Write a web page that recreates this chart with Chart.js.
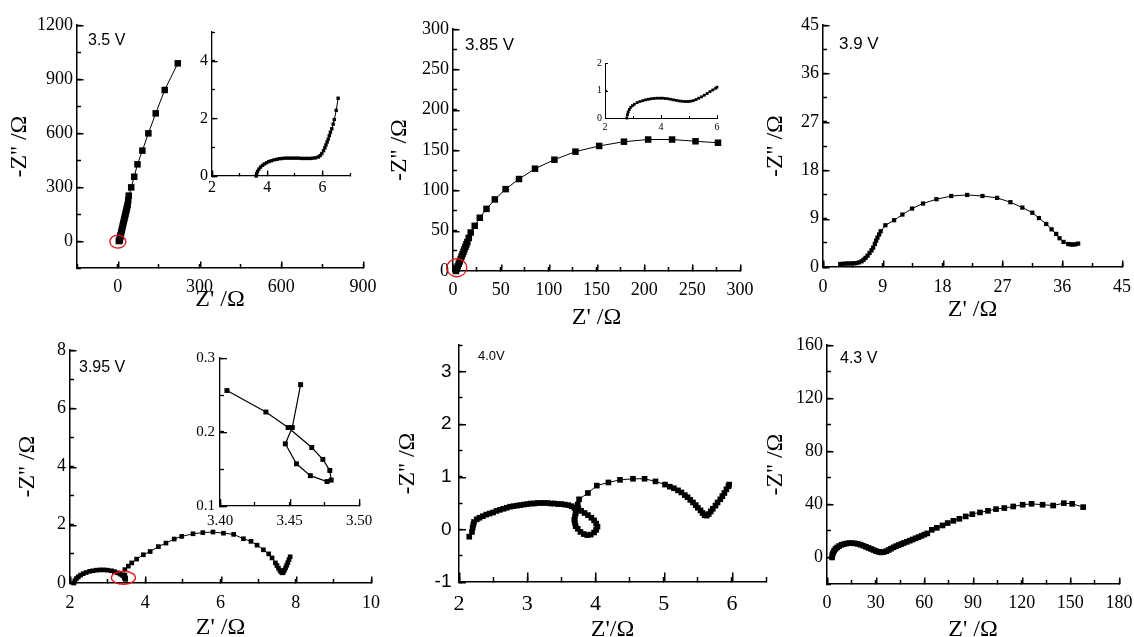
<!DOCTYPE html>
<html><head><meta charset="utf-8">
<script src="https://cdn.jsdelivr.net/npm/chart.js@4.4.1/dist/chart.umd.min.js"></script>
<style>
html,body{margin:0;padding:0;background:#fff;overflow:hidden;}
#wrap{position:relative;width:1134px;height:637px;overflow:hidden;background:#fff;}
#wrap canvas{position:absolute;}
.lbl{position:absolute;font-family:'Liberation Sans',Arial,sans-serif;color:#000;white-space:nowrap;line-height:1;z-index:5;}
</style></head>
<body><div id="wrap">
<div class="lbl" style="left:88px;top:32px;font-size:16px">3.5 V</div>
<div class="lbl" style="left:465px;top:36px;font-size:17px">3.85 V</div>
<div class="lbl" style="left:839px;top:35px;font-size:17px">3.9 V</div>
<div class="lbl" style="left:79px;top:359px;font-size:16px">3.95 V</div>
<div class="lbl" style="left:478px;top:349px;font-size:13px">4.0V</div>
<div class="lbl" style="left:840px;top:350px;font-size:16px">4.3 V</div>
</div>
<script>
// ---------------- data ----------------
// 3.5 V main
const v35_x = [3.6,5,6.6,7,8,9,10,12,14,16,18,20,22,24,26,28,30,32,34,36,38,40,49,60,72,90,112,139,172,220];
const v35_y = [0,0.6,2.7,8,16,24,32,46,59,72,85,98,111,124,137,150,163,176,189,202,226,252,298,357,426,502,598,709,839,987];
// 3.5 V inset
const v35i_x = [3.60,3.62,3.65,3.70,3.76,3.83,3.90,3.98,4.06,4.15,4.25,4.35,4.45,4.55,4.65,4.75,4.85,4.95,5.05,5.15,5.25,5.35,5.45,5.55,5.65,5.75,5.85,5.92,5.98,6.04,6.09,6.13,6.17,6.21,6.25,6.29,6.34,6.39,6.43,6.50,6.57];
const v35i_y = [0,0.08,0.16,0.24,0.31,0.37,0.42,0.46,0.50,0.53,0.56,0.58,0.60,0.61,0.62,0.62,0.62,0.62,0.62,0.62,0.61,0.61,0.61,0.61,0.62,0.63,0.66,0.71,0.78,0.88,0.98,1.08,1.18,1.28,1.40,1.52,1.64,1.80,1.96,2.28,2.70];
// 3.85 V main
const v385_x = [3,4,5,6,7,8,9,10,11,12,13,14,15,16.5,18.5,22.7,28,35,43.7,55,69,85.7,106,128,152.8,178.7,204,229,253.5,277];
const v385_y = [0,3,6,9,12,15,18,21,24,27,30,33,36,41,47.7,56,66,77,88.7,101.5,114,126.8,138,148,155,160.3,163,163,160.8,159];
// 3.85 V inset
const v385i_x = [2.78,2.80,2.83,2.87,2.92,2.98,3.05,3.15,3.25,3.35,3.45,3.55,3.65,3.75,3.85,3.95,4.05,4.15,4.25,4.35,4.45,4.55,4.65,4.75,4.85,4.95,5.05,5.15,5.25,5.35,5.45,5.55,5.65,5.75,5.85,5.95,6.0];
const v385i_y = [0,0.12,0.22,0.31,0.39,0.45,0.50,0.56,0.60,0.63,0.66,0.68,0.70,0.71,0.72,0.72,0.72,0.71,0.70,0.68,0.66,0.64,0.62,0.61,0.60,0.60,0.61,0.63,0.67,0.72,0.77,0.83,0.89,0.96,1.02,1.08,1.12];
// 3.9 V
const v39_x = [2.6,3.0,3.4,3.8,4.2,4.6,5.0,5.4,5.8,6.1,6.4,6.7,7.0,7.3,7.55,7.8,8.0,8.2,8.45,8.68,9.39,10.7,11.95,13.4,15.05,17.07,19.3,21.7,24.0,26.2,28.2,30.0,31.5,32.5,33.6,34.4,35.1,35.6,36.2,36.9,37.25,37.6,38.0,38.4];
const v39_y = [0.55,0.6,0.63,0.65,0.66,0.68,0.72,0.85,1.05,1.35,1.7,2.1,2.6,3.1,3.6,4.3,4.9,5.47,6.05,6.65,7.76,8.7,9.75,10.87,11.8,12.6,13.2,13.4,13.2,12.85,12.05,11.05,10.1,9.1,8.0,7.0,6.15,5.35,4.66,4.28,4.2,4.17,4.22,4.35];
// 3.95 V : first arc, small loop (also the inset), second arc
const v395a_x = [2.10,2.13,2.17,2.22,2.28,2.35,2.43,2.52,2.61,2.70,2.80,2.90,3.00,3.10,3.18,3.26,3.33,3.38];
const v395a_y = [0.00,0.08,0.15,0.21,0.27,0.32,0.36,0.40,0.42,0.44,0.45,0.45,0.44,0.42,0.39,0.35,0.31,0.28];
const v395l_x = [3.405,3.433,3.449,3.466,3.474,3.479,3.480,3.477,3.465,3.455,3.447,3.452,3.458];
const v395l_y = [0.256,0.227,0.206,0.179,0.163,0.148,0.135,0.133,0.141,0.157,0.184,0.206,0.264];
const v395b_x = [3.46,3.55,3.64,3.77,3.95,4.13,4.35,4.55,4.77,4.97,5.27,5.53,5.80,6.08,6.35,6.61,6.81,6.97,7.14,7.28,7.37,7.46,7.50,7.54,7.58,7.61,7.64,7.67,7.70,7.73,7.76,7.79,7.82,7.85];
const v395b_y = [0.46,0.58,0.69,0.82,0.97,1.08,1.25,1.37,1.51,1.60,1.69,1.73,1.75,1.71,1.67,1.52,1.43,1.30,1.14,1.00,0.86,0.69,0.60,0.51,0.43,0.38,0.35,0.37,0.44,0.52,0.61,0.70,0.80,0.90];
// 4.0 V
const v40_x = [2.15,2.19,2.20,2.21,2.22,2.26,2.30,2.35,2.40,2.45,2.50,2.55,2.60,2.65,2.70,2.75,2.80,2.85,2.90,2.95,3.00,3.05,3.10,3.15,3.20,3.25,3.30,3.35,3.40,3.45,3.50,3.55,3.60,3.65,3.69,3.71,3.71,3.70,3.69,3.70,3.71,3.74,3.78,3.83,3.88,3.93,3.98,4.01,4.03,4.01,3.98,3.94,3.89,3.84,3.79,3.75,3.74,3.76,3.89,4.02,4.19,4.36,4.55,4.72,4.88,5.02,5.09,5.15,5.21,5.26,5.31,5.35,5.39,5.43,5.47,5.50,5.54,5.57,5.60,5.63,5.66,5.69,5.72,5.76,5.79,5.83,5.86,5.89,5.92,5.95,5.96];
const v40_y = [-0.14,-0.05,0.03,0.09,0.14,0.19,0.22,0.25,0.28,0.30,0.32,0.35,0.37,0.39,0.41,0.43,0.44,0.45,0.46,0.47,0.48,0.49,0.49,0.50,0.50,0.50,0.50,0.49,0.49,0.48,0.48,0.47,0.46,0.44,0.41,0.36,0.30,0.24,0.18,0.12,0.06,0.01,-0.05,-0.09,-0.11,-0.10,-0.06,-0.01,0.05,0.11,0.17,0.22,0.27,0.31,0.35,0.40,0.47,0.57,0.69,0.83,0.89,0.94,0.96,0.96,0.91,0.85,0.81,0.78,0.74,0.70,0.65,0.61,0.56,0.51,0.46,0.41,0.36,0.31,0.27,0.26,0.29,0.34,0.39,0.45,0.51,0.57,0.63,0.69,0.76,0.82,0.85];
// 4.3 V
const v43_x = [3.1,3.3,3.7,4.4,5.2,6.2,7.5,9.0,10.3,12.0,13.7,15.4,17.2,19.0,20.7,22.4,24.0,25.6,27.2,28.7,30.2,31.8,33.3,34.9,36.5,38,39.5,41,42.6,44.2,45.8,47.4,49.2,51,52.8,54.6,56.4,58.2,60,61.8,64.6,67.7,71.2,74.4,77.9,81.6,85.5,89.6,94.3,99.2,104.2,109.3,114.8,120.6,126.1,132.9,139.4,146,151.1,157.9];
const v43_y = [0,1.8,3.3,5.0,6.4,7.5,8.6,9.5,10.0,10.5,10.8,10.8,10.6,10.2,9.6,8.8,8.0,7.2,6.4,5.6,4.8,4.2,3.8,4.0,4.7,5.6,6.6,7.6,8.5,9.3,10.1,10.9,11.7,12.6,13.5,14.4,15.3,16.2,17.2,18.1,20.8,22.3,24.1,25.9,27.6,29.1,30.9,32.6,33.9,35.1,36.4,37.2,38.4,39.7,40.4,39.7,39.1,40.9,40.4,37.9];

// axis ranges: [min, max, minor step, labelled every]
const ax35 = {x:[-150,900,150,300], y:[-150,1200,150,300]};
const ax35i = {x:[2,7,1,2], y:[0,5,1,2]};
const ax385 = {x:[0,300,25,50], y:[0,300,25,50]};
const ax385i = {x:[2,6,1,2], y:[0,2,1,1]};
const ax39 = {x:[0,45,4.5,9], y:[0,45,4.5,9]};
const ax395 = {x:[2,10,1,2], y:[0,8,1,2]};
const ax395i = {x:[3.40,3.50,0.025,0.05], y:[0.1,0.3,0.05,0.1]};
const ax40 = {x:[2,6.5,0.5,1], y:[-1,3.5,0.5,1]};
const ax43 = {x:[0,180,15,30], y:[-20,160,20,40]};

// ---------------- drawing ----------------
const SERIF = "'Liberation Serif','Times New Roman',serif";
const SANS = "'Liberation Sans',Arial,sans-serif";
const wrap = document.getElementById('wrap');
const pts = (xs, ys) => xs.map((x, i) => ({x: x, y: ys[i]}));

// red ring around a data region; center given in data units
Chart.register({
  id: 'ring',
  afterDatasetsDraw(chart, args, o) {
    if (!o || o.cx === undefined) return;
    const ctx = chart.ctx;
    ctx.save();
    ctx.strokeStyle = '#e3131b'; ctx.lineWidth = 1.3;
    ctx.beginPath();
    ctx.ellipse(chart.scales.x.getPixelForValue(o.cx), chart.scales.y.getPixelForValue(o.cy), o.rx, o.ry, 0, 0, Math.PI * 2);
    ctx.stroke(); ctx.restore();
  }
});
// longer inward tick marks at labelled (major) ticks
Chart.register({
  id: 'major',
  afterDraw(chart, args, o) {
    if (!o || o.x === undefined) return;
    const ctx = chart.ctx;
    ctx.save(); ctx.strokeStyle = '#000'; ctx.lineWidth = o.w;
    const xs = chart.scales.x, ys = chart.scales.y;
    xs.ticks.forEach(t => {
      if (t.label === '' ) return;
      const p = Math.round(xs.getPixelForValue(t.value)) + 0.5 * (o.w % 2);
      ctx.beginPath(); ctx.moveTo(p, xs.top); ctx.lineTo(p, xs.top - o.x); ctx.stroke();
    });
    ys.ticks.forEach(t => {
      if (t.label === '') return;
      const p = Math.round(ys.getPixelForValue(t.value)) + 0.5 * (o.w % 2);
      ctx.beginPath(); ctx.moveTo(ys.right, p); ctx.lineTo(ys.right + o.y, p); ctx.stroke();
    });
    ctx.restore();
  }
});

function scaleCfg(r, horiz, s, fit) {
  return {
    type: 'linear', position: horiz ? 'bottom' : 'left', bounds: 'data',
    min: r[0], max: r[1],
    border: {display: true, color: '#000', width: s.lw},
    grid: {display: true, drawOnChartArea: false, drawTicks: true, tickLength: -s.minor, tickColor: '#000', tickWidth: s.lw},
    ticks: {
      stepSize: r[2], autoSkip: false, maxRotation: 0, minRotation: 0, maxTicksLimit: 1000,
      color: '#000', font: {family: s.family, size: s.size}, padding: s.pad,
      callback: (v) => { const q = v / r[3]; return Math.abs(q - Math.round(q)) < 1e-6 ? s.fmt(v) : ''; }
    },
    title: s.title ? {display: true, text: s.title, color: '#000', font: {family: SERIF, size: s.tsize}, padding: 0} : {display: false},
    afterFit: (sc) => {
      if (horiz) sc.height = fit; else sc.width = fit;
      sc.paddingLeft = sc.paddingRight = sc.paddingTop = sc.paddingBottom = 0;
    }
  };
}

const num = (v) => String(Math.round(v * 1000) / 1000);

function makePanel(c) {
  const a = c.area, padT = 15, padR = 25;
  let L, B;
  if (c.inset) { L = a.l - 40; B = a.b + 32; }
  else { L = Math.round(c.yTitleCx - c.tsize * 0.6); B = Math.round(c.xTitleCy + c.tsize * 0.6); }
  const T = a.t - padT, R = a.r + padR;
  const cv = document.createElement('canvas');
  cv.width = R - L; cv.height = B - T;
  cv.style.left = L + 'px'; cv.style.top = T + 'px';
  cv.style.width = (R - L) + 'px'; cv.style.height = (B - T) + 'px';
  if (c.inset) cv.style.zIndex = 3;
  wrap.appendChild(cv);
  new Chart(cv, {
    type: 'scatter',
    data: {datasets: [{
      data: pts(c.xs, c.ys), showLine: true, clip: false,
      borderColor: '#000', borderWidth: c.lineW || 1,
      pointStyle: 'rect', pointRadius: c.pr, pointBorderWidth: 0,
      pointBackgroundColor: '#000', pointBorderColor: '#000', pointHoverRadius: c.pr
    }]},
    options: {
      responsive: false, maintainAspectRatio: false, devicePixelRatio: 1, animation: false,
      events: [],
      layout: {padding: {left: 0, top: padT, right: padR, bottom: 0}},
      plugins: {legend: {display: false}, tooltip: {enabled: false}, ring: c.ring || {}, major: c.major},
      scales: {
        x: scaleCfg(c.ax.x, true, c.sx, B - a.b),
        y: scaleCfg(c.ax.y, false, c.sy, a.l - L)
      }
    }
  });
}

const TS = 24;
const YT = "-Z'' /\u03A9", XT = "Z' /\u03A9";
function mainStyle(pad, title, size, family, fmt, minor) {
  return {lw: 1.5, minor: minor || 4, family: family || SERIF, size: size || 18, pad: pad, fmt: fmt || num, title: title, tsize: TS};
}

// 3.5 V
makePanel({area: {l: 77, t: 25, r: 363, b: 268}, yTitleCx: 19, xTitleCy: 300, tsize: TS,
  xs: v35_x, ys: v35_y, ax: ax35, pr: 4.6,
  sx: mainStyle(12, XT), sy: mainStyle(8, YT), major: {x: 6.5, y: 6.5, w: 1.5},
  ring: {cx: 0, cy: -3, rx: 8, ry: 6.5}});
// 3.85 V
makePanel({area: {l: 453, t: 29, r: 740, b: 271}, yTitleCx: 399, xTitleCy: 318, tsize: TS,
  xs: v385_x, ys: v385_y, ax: ax385, pr: 4.6,
  sx: mainStyle(12.5, XT), sy: mainStyle(8, YT), major: {x: 6.5, y: 6.5, w: 1.5},
  ring: {cx: 4, cy: 4, rx: 10, ry: 9}});
// 3.9 V
makePanel({area: {l: 823, t: 25, r: 1122, b: 267}, yTitleCx: 775, xTitleCy: 310, tsize: TS,
  xs: v39_x, ys: v39_y, ax: ax39, pr: 3,
  sx: mainStyle(13, XT), sy: mainStyle(8, YT), major: {x: 6.5, y: 6.5, w: 1.5}});
// 3.95 V
makePanel({area: {l: 70, t: 350, r: 371, b: 583}, yTitleCx: 27, xTitleCy: 628, tsize: TS,
  xs: v395a_x.concat(v395l_x, v395b_x), ys: v395a_y.concat(v395l_y, v395b_y), ax: ax395, pr: 3.3,
  sx: mainStyle(13, XT), sy: mainStyle(8, YT), major: {x: 6.5, y: 6.5, w: 1.5},
  ring: {cx: 3.42, cy: 0.18, rx: 12, ry: 6.5}});
// 4.0 V
makePanel({area: {l: 459, t: 345, r: 766, b: 582}, yTitleCx: 407, xTitleCy: 630, tsize: TS,
  xs: v40_x, ys: v40_y, ax: ax40, pr: 4,
  sx: mainStyle(14.5, "Z'/\u03A9", 22, SERIF, num, 5),
  sy: mainStyle(11, YT, 19, SANS, num, 3.5), major: {x: 9.5, y: 7, w: 1.5}});
// 4.3 V
makePanel({area: {l: 827, t: 345, r: 1119, b: 584}, yTitleCx: 775, xTitleCy: 630, tsize: TS,
  xs: v43_x, ys: v43_y, ax: ax43, pr: 4,
  sx: mainStyle(12, XT), sy: mainStyle(8, YT), major: {x: 6.5, y: 6.5, w: 1.5}});

// insets
makePanel({inset: true, area: {l: 212, t: 32, r: 350, b: 176},
  xs: v35i_x, ys: v35i_y, ax: ax35i, pr: 2.4,
  sx: {lw: 1.3, minor: 3, family: SERIF, size: 16, pad: 5, fmt: num},
  sy: {lw: 1.3, minor: 3, family: SERIF, size: 16, pad: 7, fmt: num}, major: {x: 5.5, y: 5.5, w: 1.3}});
makePanel({inset: true, area: {l: 605, t: 63, r: 717, b: 118},
  xs: v385i_x, ys: v385i_y, ax: ax385i, pr: 2,
  sx: {lw: 1, minor: 2, family: SERIF, size: 10, pad: 5, fmt: num},
  sy: {lw: 1, minor: 2, family: SERIF, size: 10, pad: 5, fmt: num}, major: {x: 3, y: 3, w: 1}});
makePanel({inset: true, area: {l: 220, t: 358, r: 359, b: 506},
  xs: v395l_x, ys: v395l_y, ax: ax395i, pr: 3.5, lineW: 1.2,
  sx: {lw: 1.3, minor: 4, family: SERIF, size: 15, pad: 10, fmt: (v) => v.toFixed(2)},
  sy: {lw: 1.3, minor: 4, family: SERIF, size: 15, pad: 9, fmt: (v) => v.toFixed(1)}, major: {x: 7, y: 7, w: 1.3}});
</script>
</body></html>
